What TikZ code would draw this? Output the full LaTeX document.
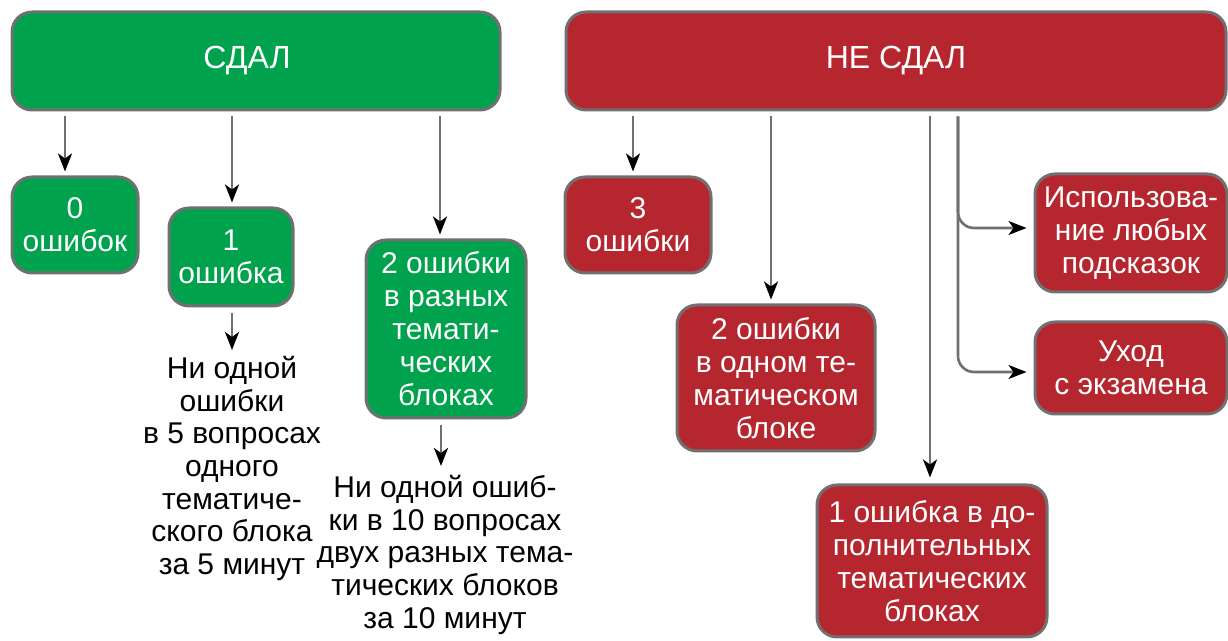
\documentclass[tikz,border=0pt]{standalone}
\usepackage{fontspec}
\setmainfont{Liberation Sans}
\usetikzlibrary{positioning, calc, arrows.meta}
\definecolor{passgreen}{RGB}{0,162,77}
\definecolor{failred}{RGB}{181,38,46}
\definecolor{edgegray}{RGB}{112,112,112}
\tikzstyle{verdict}=[rectangle, rounded corners=10pt, draw=edgegray, line width=1.5pt, text=white, align=center, inner sep=0pt, font=\fontsize{15}{16.5}\selectfont]
\tikzstyle{passbox}=[verdict, fill=passgreen]
\tikzstyle{failbox}=[verdict, fill=failred]
\tikzstyle{header}=[font=\fontsize{16}{18}\selectfont]
\tikzstyle{note}=[align=center, inner sep=0pt, anchor=north, font=\fontsize{15}{16.3}\selectfont]
\tikzstyle{link}=[draw=edgegray, line width=1.3pt, -{Stealth[length=9pt,width=7pt,inset=2.5pt,color=black]}]

\begin{document}
\begin{tikzpicture}[x=0.5pt, y=-0.5pt]
            \useasboundingbox (0,0) rectangle (1228,641);
            %Top verdicts
            \node[passbox, header, minimum width=244pt, minimum height=49pt](sdal) at (256,61){СДАЛ\hspace{9pt}};
            \node[failbox, header, minimum width=330pt, minimum height=49pt](nesdal) at (896,61){НЕ СДАЛ};

            %Passed
            \node[passbox, minimum width=63pt, minimum height=48pt](err0) at (75,225){0\\ошибок};
            \node[passbox, minimum width=62pt, minimum height=49pt](err1) at (231,257){1\\ошибка};
            \node[passbox, minimum width=80pt, minimum height=89pt](err2) at (446,329){2 ошибки\\в разных\\темати-\\ческих\\блоках};
            \node[note](rule1) at (232,356){Ни одной\\ошибки\\в 5 вопросах\\одного\\тематиче-\\ского блока\\за 5 минут};
            \node[note](rule2) at (445,475){Ни одной ошиб-\\ки в 10 вопросах\\двух разных тема-\\тических блоков\\за 10 минут};

            %Failed
            \node[failbox, minimum width=73pt, minimum height=48pt](err3) at (638,225){3\\ошибки};
            \node[failbox, minimum width=99pt, minimum height=73pt](err2one) at (776,378){2 ошибки\\в одном те-\\матическом\\блоке};
            \node[failbox, minimum width=115pt, minimum height=76pt](extra) at (932,561){1 ошибка в до-\\полнительных\\тематических\\блоках};
            \node[failbox, minimum width=96pt, minimum height=59pt](hints) at (1131,233){Использова-\\ние любых\\подсказок};
            \node[failbox, minimum width=96pt, minimum height=46pt](leave) at (1131,368){Уход\\с экзамена};

            %Arrows from the verdicts
            \draw[link] ($(sdal.south -| err0.north)+(-10,5)$) -- ($(err0.north)+(-10,-4)$);
            \draw[link] ($(sdal.south -| err1.north)+(1,5)$) -- ($(err1.north)+(1,-4)$);
            \draw[link] ($(sdal.south -| err2.north)+(-6,5)$) -- ($(err2.north)+(-6,-4)$);
            \draw[link] ($(err1.south)+(1,6)$) -- ($(rule1.north)+(0,-6)$);
            \draw[link] ($(err2.south)+(-5,6)$) -- ($(rule2.north)+(-4,-9)$);
            \draw[link] ($(nesdal.south -| err3.north)+(-5,5)$) -- ($(err3.north)+(-5,-4)$);
            \draw[link] ($(nesdal.south -| err2one.north)+(-5,5)$) -- ($(err2one.north)+(-5,-4)$);
            \draw[link] ($(nesdal.south -| extra.north)+(-2,5)$) -- ($(extra.north)+(-2,-6)$);
            \coordinate (split) at ($(nesdal.south)+(62,5)$);
            \draw[link, rounded corners=8pt] (split) |- ($(hints.west)+(-7,-5)$);
            \draw[link, rounded corners=8pt] (split) |- ($(leave.west)+(-7,4)$);
        \end{tikzpicture}
\end{document}
